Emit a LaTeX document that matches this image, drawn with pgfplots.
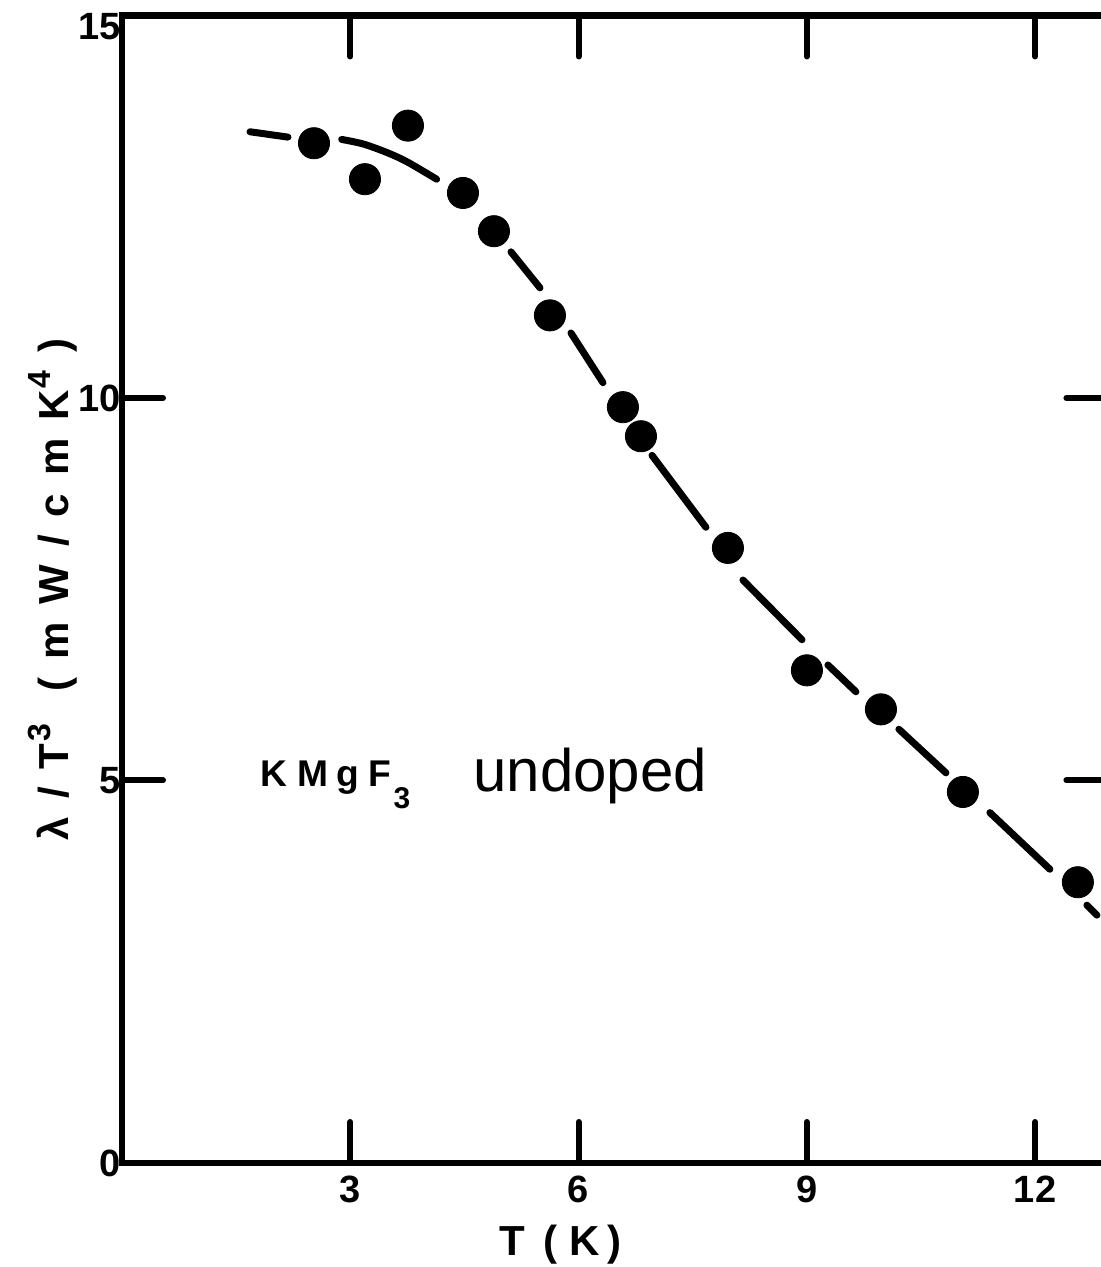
\documentclass[border=0pt]{standalone}
\usepackage{fontspec}
\setmainfont{Liberation Sans}
\usepackage{pgfplots}
\pgfplotsset{compat=1.18}

\begin{document}
\begin{tikzpicture}
\begin{axis}[
  scale only axis,
  width=492.7pt, height=573.75pt,
  xmin=0, xmax=12.95, ymin=0, ymax=15,
  xtick={3,6,9,12}, ytick={0,5,10,15},
  yticklabels={0,5,10,\raisebox{-11.8pt}[0pt][0pt]{15}},
  major tick length=20.5pt,
  tick align=inside,
  tick style={line width=3pt, line cap=round, black},
  axis line style={line width=3.2pt},
  /pgf/number format/assume math mode=true,
  tick label style={font=\bfseries\fontsize{19}{22}\selectfont},
  xticklabel style={yshift=-3pt},
  yticklabel style={xshift=3pt},
  xlabel={T\hspace{9pt}(\hspace{6pt}K\hspace{4pt})},
  ylabel={λ\hspace{9pt}/\hspace{9pt}T\hspace{1pt}\raisebox{9pt}{\fontsize{16}{16}\selectfont 3}\hspace{16pt}(\hspace{9pt}m\hspace{9pt}W\hspace{9pt}/\hspace{9pt}c\hspace{9pt}m\hspace{9pt}K\hspace{1pt}\raisebox{9pt}{\fontsize{16}{16}\selectfont 4}\hspace{9pt})},
  every axis x label/.style={at={(axis description cs:0.445,-0.0715)}, anchor=center, font=\bfseries\fontsize{21}{24}\selectfont},
  every axis y label/.style={at={(axis description cs:-0.070,0.5)}, anchor=center, rotate=90, font=\bfseries\fontsize{21}{24}\selectfont},
]
% fitted curve, drawn as the hand-broken dashes of the original
\addplot[line width=3.5pt, line cap=round, black] coordinates {(1.682,13.48) (2.181,13.41)};
\addplot[line width=3.5pt, line cap=round, black, smooth] coordinates {
  (2.887,13.38) (3.171,13.32) (3.478,13.21) (3.741,13.09) (4.135,12.86)};
\addplot[line width=3.5pt, line cap=round, black] coordinates {(5.112,11.91) (5.493,11.44)};
\addplot[line width=3.5pt, line cap=round, black] coordinates {(5.900,10.85) (6.321,10.20)};
\addplot[line width=3.5pt, line cap=round, black] coordinates {(6.965,9.25) (7.674,8.31)};
\addplot[line width=3.5pt, line cap=round, black] coordinates {(8.160,7.62) (8.936,6.84)};
\addplot[line width=3.5pt, line cap=round, black] coordinates {(9.277,6.51) (9.645,6.16)};
\addplot[line width=3.5pt, line cap=round, black] coordinates {(10.210,5.67) (10.828,5.10)};
\addplot[line width=3.5pt, line cap=round, black] coordinates {(11.406,4.58) (12.194,3.84)};
\addplot[line width=3.5pt, line cap=round, black] coordinates {(12.681,3.37) (12.812,3.24)};

% measured points
\addplot[only marks, mark=*, mark size=7.8pt, black] coordinates {
  (2.523,13.33) (3.193,12.86) (3.758,13.56) (4.481,12.68) (4.888,12.18)
  (5.624,11.08) (6.583,9.88) (6.820,9.50) (7.963,8.04) (9.001,6.44)
  (9.974,5.93) (11.051,4.85) (12.562,3.67)};

\node[anchor=base west, inner sep=0pt, font=\bfseries\fontsize{18.6}{20}\selectfont]
  at (axis cs:1.813,4.915) {K\hspace{5pt}M\hspace{4pt}g\hspace{5pt}F\hspace{1pt}\raisebox{-10.6pt}{\fontsize{15}{16}\selectfont 3}};
\node[anchor=base west, inner sep=0pt, font=\fontsize{30}{32}\selectfont]
  at (axis cs:4.612,4.85) {undoped};
\end{axis}
\pgfresetboundingbox
\path ([shift={(-61pt,-52pt)}]current axis.south west) rectangle ([shift={(489.5pt,581.5pt)}]current axis.south west);
\end{tikzpicture}
\end{document}
